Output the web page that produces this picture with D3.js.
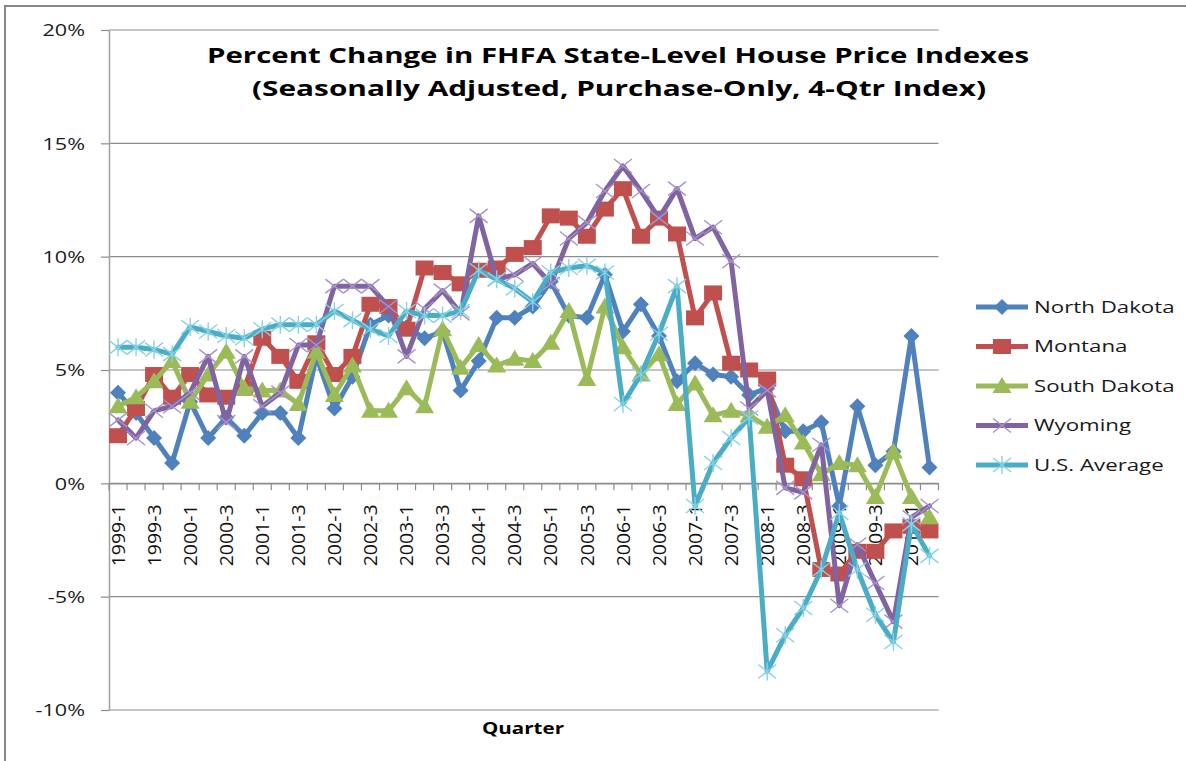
<!DOCTYPE html>
<html><head><meta charset="utf-8">
<script src="https://cdn.jsdelivr.net/npm/d3@7"></script>
<style>
html,body{margin:0;padding:0;background:#fff;}
svg{display:block;font-family:"Open Sans",sans-serif;}
</style></head>
<body>
<svg id="chart" width="1186" height="761"></svg>
<script>
const quarters = ["1999-1","1999-2","1999-3","1999-4","2000-1","2000-2","2000-3","2000-4",
"2001-1","2001-2","2001-3","2001-4","2002-1","2002-2","2002-3","2002-4",
"2003-1","2003-2","2003-3","2003-4","2004-1","2004-2","2004-3","2004-4",
"2005-1","2005-2","2005-3","2005-4","2006-1","2006-2","2006-3","2006-4",
"2007-1","2007-2","2007-3","2007-4","2008-1","2008-2","2008-3","2008-4",
"2009-1","2009-2","2009-3","2009-4","2010-1","2010-2"];
const xLabels = ["1999-1","1999-3","2000-1","2000-3","2001-1","2001-3","2002-1","2002-3",
"2003-1","2003-3","2004-1","2004-3","2005-1","2005-3","2006-1","2006-3",
"2007-1","2007-3","2008-1","2008-3","2009-1","2009-3","2010-1"];
const yTicks = [-10,-5,0,5,10,15,20];
const seriesNames = ["North Dakota","Montana","South Dakota","Wyoming","U.S. Average"];
const northDakota = [4.0,3.1,2.0,0.9,3.6,2.0,2.9,2.1,3.1,3.1,2.0,5.6,3.3,4.7,7.0,7.4,6.9,6.4,6.7,4.1,
5.4,7.3,7.3,7.8,8.9,7.4,7.3,9.2,6.7,7.9,6.5,4.5,5.3,4.8,4.7,3.9,4.2,2.3,2.3,2.7,
-1.0,3.4,0.8,1.4,6.5,0.7];
const montana = [2.1,3.3,4.8,3.8,4.8,3.9,3.8,4.2,6.4,5.6,4.5,6.2,4.8,5.6,7.9,7.8,6.8,9.5,9.3,8.8,
9.4,9.5,10.1,10.4,11.8,11.7,10.9,12.1,13.0,10.9,11.7,11.0,7.3,8.4,5.3,5.0,4.6,0.8,0.2,-3.8,
-4.0,-3.0,-3.0,-2.1,-1.9,-2.1];
const southDakota = [3.4,3.8,4.5,5.4,3.6,4.8,5.8,4.2,4.1,4.1,3.5,5.8,3.9,5.2,3.2,3.2,4.2,3.4,6.8,5.1,
6.1,5.2,5.5,5.4,6.2,7.6,4.6,7.8,6.0,4.8,5.7,3.5,4.4,3.0,3.2,3.0,2.5,3.0,1.8,0.4,
0.9,0.8,-0.6,1.4,-0.6,-1.5];
const wyoming = [2.8,2.0,3.2,3.4,4.0,5.6,2.7,5.6,3.4,4.0,6.1,6.1,8.7,8.7,8.7,7.8,5.6,7.7,8.5,7.5,
11.8,9.0,9.2,9.7,8.8,10.8,11.5,12.9,14.0,12.9,11.7,13.0,10.8,11.3,9.8,3.3,4.1,-0.2,-0.4,1.7,
-5.4,-2.7,-4.4,-6.1,-1.5,-1.0];
const usAverage = [6.0,6.0,5.9,5.7,6.9,6.7,6.5,6.4,6.8,7.0,7.0,7.0,7.6,7.2,6.8,6.5,7.6,7.4,7.4,7.6,
9.4,9.0,8.6,8.0,9.3,9.5,9.6,9.3,3.5,4.8,6.6,8.7,-1.0,0.9,2.0,2.9,-8.3,-6.7,-5.5,-3.8,
-1.3,-3.8,-5.8,-7.0,-1.8,-3.2];

const seriesValues = [northDakota, montana, southDakota, wyoming, usAverage];
const colors = ["#4F81BD","#C0504D","#9BBB59","#8064A2","#4BACC6"];
const markerColors = ["#4F81BD","#C0504D","#9BBB59","#A892CC","#86D2E6"];
const markerTypes = ["diamond","square","triangle","x","star"];

const svg = d3.select("#chart");
const M = {left:109, right:938.5, top:30, bottom:710};
const FONT = '"Open Sans", sans-serif';
const SX = 1.35;

// outer frame
svg.append("rect").attr("x",5).attr("y",6).attr("width",1200).attr("height",800)
  .attr("fill","none").attr("stroke","#878787").attr("stroke-width",2);

const x = d3.scaleBand().domain(quarters).range([M.left, M.right]).padding(0);
const y = d3.scaleLinear().domain([-10,20]).range([M.bottom, M.top]);
const cx = d => x(d) + x.bandwidth()/2;

// gridlines
svg.append("g").selectAll("line").data(yTicks).join("line")
  .attr("x1",M.left).attr("x2",M.right)
  .attr("y1",d=>y(d)).attr("y2",d=>y(d))
  .attr("stroke","#8c8c8c").attr("stroke-width",1.2);

// y axis
const yAxis = svg.append("g").attr("transform",`translate(${M.left},0)`)
  .call(d3.axisLeft(y).tickValues(yTicks).tickFormat(d=>d+"%").tickSize(8).tickSizeOuter(0));
yAxis.select(".domain").attr("stroke","#a0a0a0").attr("stroke-width",1.5);
yAxis.selectAll(".tick line").attr("stroke","#8c8c8c").attr("stroke-width",1.2);
yAxis.selectAll(".tick text")
  .attr("x",0).attr("dy","0.36em")
  .attr("transform",`translate(-24,0) scale(${SX},1)`)
  .attr("fill","#1a1a1a").style("font-size","16px").style("font-family",FONT);

// x axis at 0%
const xAxis = svg.append("g").attr("transform",`translate(0,${y(0)})`)
  .call(d3.axisBottom(x).tickValues(xLabels).tickSize(0).tickSizeOuter(0));
xAxis.select(".domain").attr("stroke","#8c8c8c").attr("stroke-width",1.2);
xAxis.selectAll(".tick text")
  .attr("transform","rotate(-90)")
  .attr("x",-21).attr("y",0).attr("dy","0.37em")
  .attr("text-anchor","end")
  .attr("textLength",62).attr("lengthAdjust","spacingAndGlyphs")
  .attr("fill","#111").style("font-size","18px").style("font-family",FONT);
// tick marks at category boundaries
const boundaries = quarters.map(q=>x(q)).concat([x(quarters[quarters.length-1])+x.bandwidth()]);
svg.append("g").selectAll("line").data(boundaries).join("line")
  .attr("x1",d=>d).attr("x2",d=>d)
  .attr("y1",y(0)).attr("y2",y(0)+7)
  .attr("stroke","#8c8c8c").attr("stroke-width",1.2);

// marker drawing
function drawMarker(g, type, px, py, color) {
  if (type==="diamond") {
    g.append("path").attr("d",`M${px},${py-8}L${px+8},${py}L${px},${py+8}L${px-8},${py}Z`)
      .attr("fill",color);
  } else if (type==="square") {
    g.append("rect").attr("x",px-9).attr("y",py-7.5).attr("width",18).attr("height",15)
      .attr("fill",color);
  } else if (type==="triangle") {
    g.append("path").attr("d",`M${px},${py-9}L${px+9.5},${py+7}L${px-9.5},${py+7}Z`)
      .attr("fill",color);
  } else if (type==="x") {
    g.append("path").attr("d",`M${px-9},${py-7}L${px+9},${py+7}M${px-9},${py+7}L${px+9},${py-7}`)
      .attr("stroke",color).attr("stroke-width",1.4).attr("fill","none");
  } else if (type==="star") {
    g.append("path").attr("d",`M${px-9},${py-7}L${px+9},${py+7}M${px-9},${py+7}L${px+9},${py-7}M${px},${py-9}L${px},${py+9}`)
      .attr("stroke",color).attr("stroke-width",1.4).attr("fill","none");
  }
}

const line = d3.line().x((d,i)=>cx(quarters[i])).y(d=>y(d));

seriesValues.forEach((vals, s) => {
  const g = svg.append("g");
  g.append("path").datum(vals).attr("d",line)
    .attr("fill","none").attr("stroke",colors[s]).attr("stroke-width",5)
    .attr("stroke-linejoin","round").attr("stroke-linecap","round");
  vals.forEach((v,i)=> drawMarker(g, markerTypes[s], cx(quarters[i]), y(v), markerColors[s]));
});

// title
const title = svg.append("g").attr("font-family",FONT).attr("font-weight",700).attr("fill","#000");
title.append("text").attr("x",207).attr("y",63).style("font-size","22px")
  .attr("textLength",822).attr("lengthAdjust","spacingAndGlyphs")
  .text("Percent Change in FHFA State-Level House Price Indexes");
title.append("text").attr("x",252).attr("y",96).style("font-size","22px")
  .attr("textLength",734).attr("lengthAdjust","spacingAndGlyphs")
  .text("(Seasonally Adjusted, Purchase-Only, 4-Qtr Index)");

// axis title
svg.append("text").attr("x",482).attr("y",734)
  .attr("font-family",FONT).attr("font-weight",700).style("font-size","16.5px")
  .attr("textLength",82).attr("lengthAdjust","spacingAndGlyphs")
  .attr("fill","#000").text("Quarter");

// legend
const lg = svg.append("g");
seriesNames.forEach((name, s) => {
  const ly = 307 + 39.5*s;
  lg.append("line").attr("x1",976).attr("x2",1028).attr("y1",ly).attr("y2",ly)
    .attr("stroke",colors[s]).attr("stroke-width",5);
  drawMarker(lg, markerTypes[s], 1002, ly, markerColors[s]);
  lg.append("text").attr("x",0).attr("y",0).attr("dy","0.36em")
    .attr("transform",`translate(1034,${ly}) scale(${SX},1)`)
    .attr("font-family",FONT).style("font-size","16.5px").attr("fill","#1a1a1a")
    .text(name);
});
</script>
</body></html>
